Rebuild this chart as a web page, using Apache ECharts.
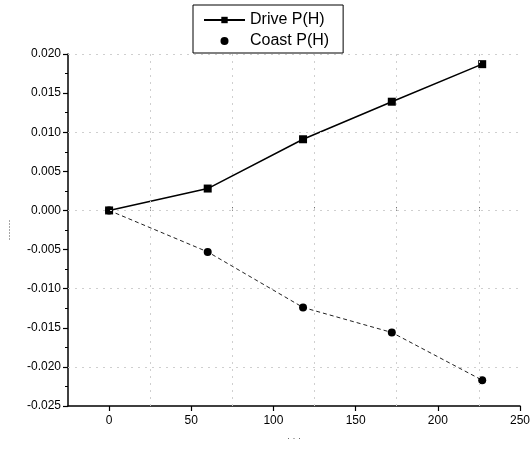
<!DOCTYPE html>
<html>
<head>
<meta charset="utf-8">
<script src="https://cdn.jsdelivr.net/npm/echarts@6/dist/echarts.min.js"></script>
<style>html,body{margin:0;padding:0;background:#fff}#c{width:531px;height:449px}</style>
</head>
<body>
<div id="c"></div>
<script>
const xValues = [0, 60, 118, 172, 227];
const driveValues = [0, 0.0028, 0.0091, 0.0139, 0.0187];
const coastValues = [0, -0.0053, -0.0124, -0.0156, -0.0217];
const xTickLabels = [0, 50, 100, 150, 200, 250];
const xMinorTicks = [25, 75, 125, 175, 225];
const yGridMinor = [0.0175, 0.0125, 0.0075, 0.0025, -0.0025, -0.0075, -0.0125, -0.0175, -0.0225];

const chart = echarts.init(document.getElementById('c'), null, {renderer: 'canvas'});
const font = 'Arial, "Liberation Sans", sans-serif';
const gridLine = {color: '#cfcfcf', width: 1, type: [2, 5]};

chart.setOption({
  animation: false,
  backgroundColor: '#fff',
  grid: {left: 68, right: 11, top: 54, bottom: 43, outerBoundsMode: 'none', containLabel: false},
  legend: {
    left: 193, top: 5,
    orient: 'vertical',
    padding: [7, 14, 4, 10],
    itemGap: 5,
    itemWidth: 41, itemHeight: 8,
    borderColor: '#000', borderWidth: 1,
    textStyle: {fontFamily: font, fontSize: 16, color: '#000'},
    data: [
      {name: 'Drive P(H)'},
      {name: 'Coast P(H)', icon: 'circle'}
    ]
  },
  xAxis: [{
    type: 'value', min: -25, max: 250, interval: 25,
    name: '· · ·', nameLocation: 'middle', nameGap: 28,
    nameTextStyle: {fontSize: 9, color: '#555'},
    axisLine: {show: true, onZero: false, lineStyle: {color: '#000', width: 1.5}},
    axisTick: {show: true, length: 5, customValues: xTickLabels, lineStyle: {color: '#000', width: 1.2}},
    axisLabel: {customValues: xTickLabels, fontFamily: font, fontSize: 12, color: '#000', margin: 9},
    splitLine: {show: false}
  }, {
    type: 'value', min: -25, max: 250, interval: 25, position: 'bottom',
    axisLine: {show: false},
    axisTick: {show: true, inside: true, length: 3, customValues: xMinorTicks, lineStyle: {color: '#000'}},
    axisLabel: {show: false},
    splitLine: {show: false}
  }],
  yAxis: {
    type: 'value', min: -0.025, max: 0.020, interval: 0.005,
    name: '·······', nameLocation: 'middle', nameGap: 54, nameRotate: 90,
    nameTextStyle: {fontSize: 9, color: '#555'},
    axisLine: {show: true, onZero: false, lineStyle: {color: '#000', width: 1.5}},
    axisTick: {show: true, length: 5, lineStyle: {color: '#000', width: 1.2}},
    minorTick: {show: true, splitNumber: 2, length: 3, lineStyle: {color: '#000'}},
    axisLabel: {fontFamily: font, fontSize: 12, color: '#000', margin: 7,
      formatter: v => v.toFixed(3)},
    splitLine: {show: false}
  },
  series: [
    {
      name: 'Drive P(H)', type: 'line',
      data: xValues.map((x, i) => [x, driveValues[i]]),
      symbol: 'rect', symbolSize: 8,
      lineStyle: {color: '#000', width: 1.5},
      itemStyle: {color: '#000'},
      markLine: {
        silent: true, symbol: 'none', label: {show: false},
        lineStyle: gridLine,
        data: xMinorTicks.map(v => ({xAxis: v})).concat(yGridMinor.map(v => ({yAxis: v})))
      },
      z: 3
    },
    {
      name: 'Coast P(H)', type: 'line',
      data: xValues.map((x, i) => [x, coastValues[i]]),
      symbol: 'circle', symbolSize: 8,
      lineStyle: {color: '#222', width: 1, type: [4, 3]},
      itemStyle: {color: '#000'},
      z: 3
    }
  ]
});
</script>
</body>
</html>
